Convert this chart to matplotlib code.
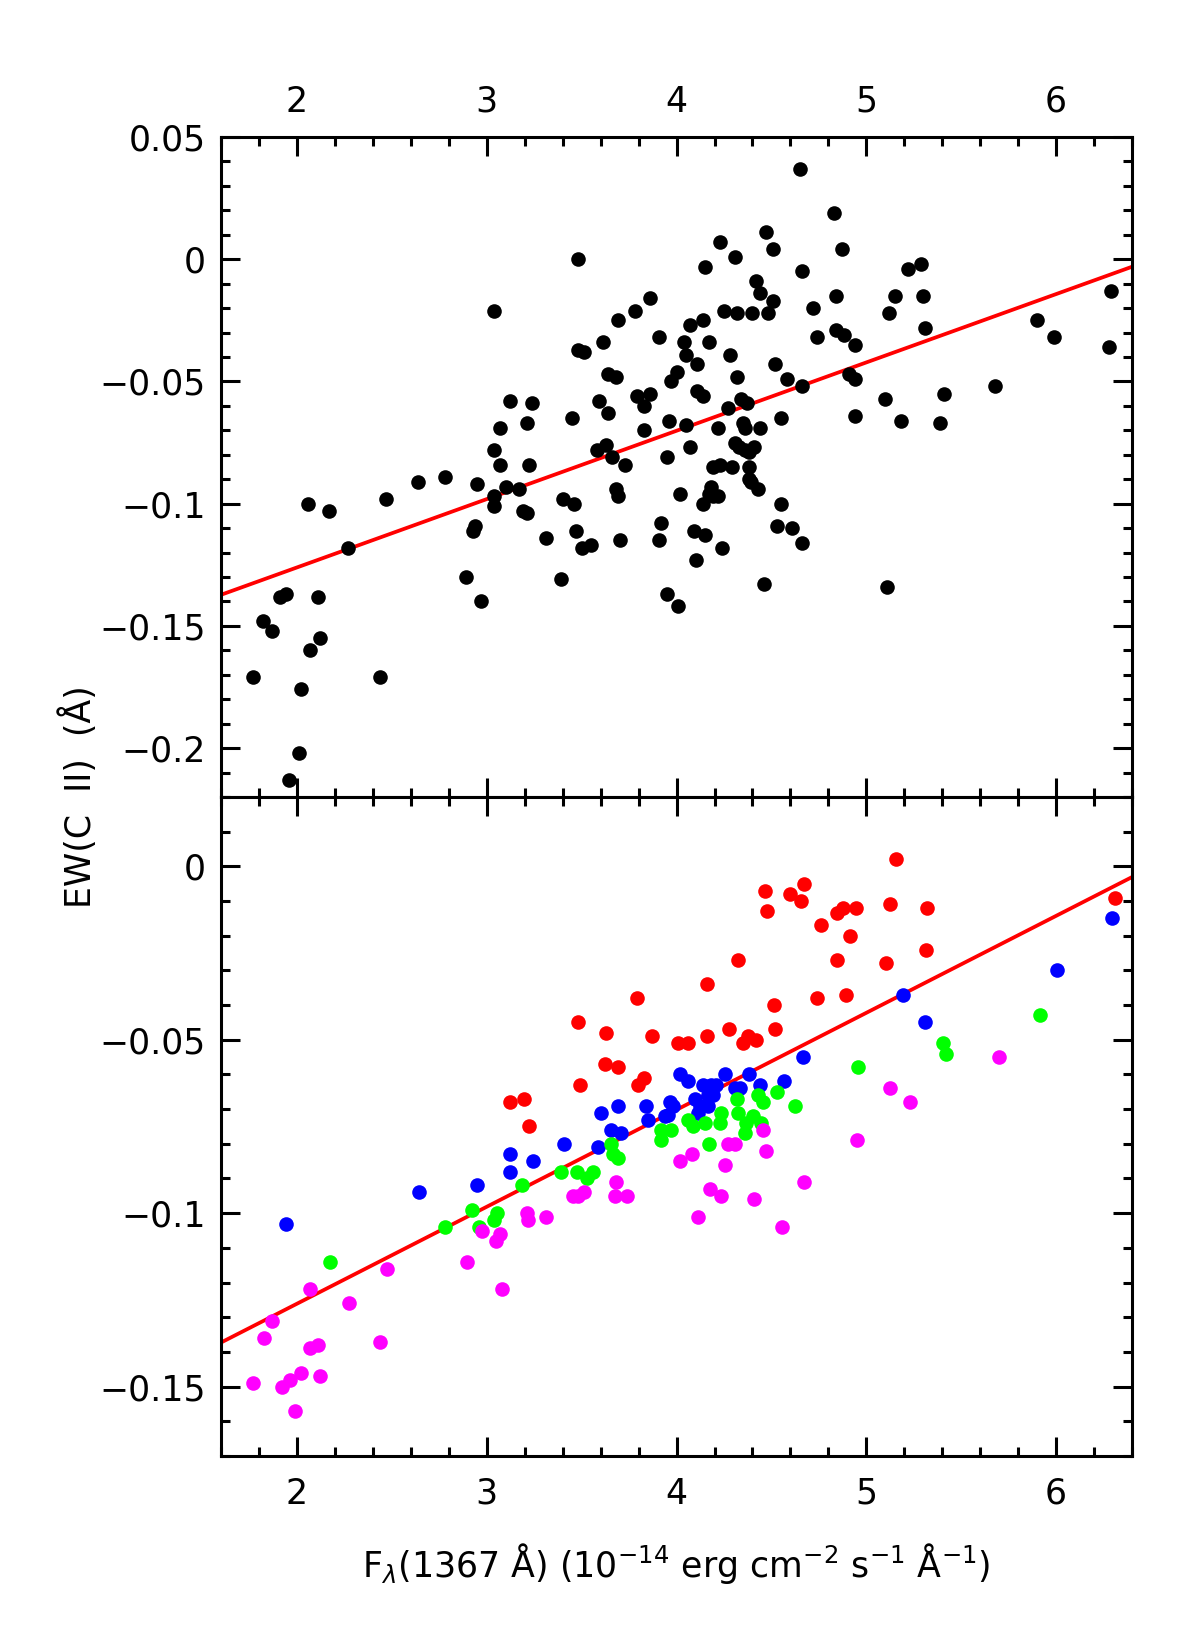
import numpy as np
import matplotlib
matplotlib.use('Agg')
import matplotlib.pyplot as plt
from matplotlib.ticker import MultipleLocator, FuncFormatter

plt.rcParams['font.family'] = ['DejaVu Sans']
plt.rcParams['mathtext.fontset'] = 'dejavusans'

# painel de cima: todos os pontos
top_x = [1.77, 1.82, 1.87, 1.91, 1.94, 1.96, 2.01, 2.02, 2.06, 2.07, 2.11, 2.12, 2.17, 2.27,
         2.44, 2.47, 2.64, 2.78, 2.89, 2.93, 2.94, 2.95, 2.97, 3.04, 3.04, 3.04, 3.04, 3.07,
         3.07, 3.10, 3.12, 3.17, 3.19, 3.21, 3.21, 3.22, 3.24, 3.31, 3.39, 3.40, 3.45, 3.46,
         3.47, 3.48, 3.48, 3.50, 3.51, 3.55, 3.59, 3.58, 3.61, 3.63, 3.64, 3.64, 3.66, 3.68,
         3.68, 3.69, 3.69, 3.70, 3.73, 3.78, 3.79, 3.83, 3.83, 3.86, 3.86, 3.91, 3.91, 3.92,
         3.95, 3.95, 3.96, 3.97, 4.00, 4.01, 4.02, 4.05, 4.04, 4.05, 4.07, 4.07, 4.09, 4.10,
         4.11, 4.11, 4.14, 4.14, 4.14, 4.15, 4.15, 4.17, 4.18, 4.17, 4.19, 4.19, 4.22, 4.22,
         4.23, 4.23, 4.24, 4.25, 4.27, 4.28, 4.29, 4.31, 4.31, 4.32, 4.32, 4.33, 4.34, 4.35,
         4.36, 4.36, 4.37, 4.38, 4.38, 4.38, 4.39, 4.40, 4.41, 4.42, 4.43, 4.44, 4.44, 4.46,
         4.47, 4.48, 4.51, 4.51, 4.52, 4.53, 4.55, 4.55, 4.58, 4.61, 4.65, 4.66, 4.66, 4.66,
         4.72, 4.74, 4.83, 4.84, 4.84, 4.87, 4.88, 4.91, 4.94, 4.94, 4.94, 5.10, 5.11, 5.12,
         5.15, 5.18, 5.22, 5.29, 5.30, 5.31, 5.39, 5.41, 5.68, 5.90, 5.99, 6.28, 6.29]
top_y = [-0.171, -0.148, -0.152, -0.138, -0.137, -0.213, -0.202, -0.176, -0.100, -0.160,
         -0.138, -0.155, -0.103, -0.118, -0.171, -0.098, -0.091, -0.089, -0.130, -0.111,
         -0.109, -0.092, -0.140, -0.021, -0.078, -0.097, -0.101, -0.069, -0.084, -0.093,
         -0.058, -0.094, -0.103, -0.067, -0.104, -0.084, -0.059, -0.114, -0.131, -0.098,
         -0.065, -0.100, -0.111, 0.000, -0.037, -0.118, -0.038, -0.117, -0.058, -0.078,
         -0.034, -0.076, -0.063, -0.047, -0.081, -0.094, -0.048, -0.025, -0.097, -0.115,
         -0.084, -0.021, -0.056, -0.060, -0.070, -0.016, -0.055, -0.032, -0.115, -0.108,
         -0.081, -0.137, -0.066, -0.050, -0.046, -0.142, -0.096, -0.068, -0.034, -0.039,
         -0.027, -0.077, -0.111, -0.123, -0.054, -0.043, -0.056, -0.025, -0.100, -0.003,
         -0.113, -0.096, -0.093, -0.034, -0.085, -0.097, -0.097, -0.069, 0.007, -0.084,
         -0.118, -0.021, -0.061, -0.039, -0.085, 0.001, -0.075, -0.048, -0.022, -0.077,
         -0.057, -0.067, -0.078, -0.069, -0.059, -0.090, -0.085, -0.079, -0.091, -0.022,
         -0.077, -0.009, -0.094, -0.069, -0.014, -0.133, 0.011, -0.022, 0.004, -0.017,
         -0.043, -0.109, -0.100, -0.065, -0.049, -0.110, 0.037, -0.005, -0.052, -0.116,
         -0.020, -0.032, 0.019, -0.015, -0.029, 0.004, -0.031, -0.047, -0.035, -0.064,
         -0.049, -0.057, -0.134, -0.022, -0.015, -0.066, -0.004, -0.002, -0.015, -0.028,
         -0.067, -0.055, -0.052, -0.025, -0.032, -0.036, -0.013]

# painel de baixo: grupos por cor
red_x = [3.123, 3.197, 3.224, 3.482, 3.491, 3.627, 3.622, 3.694, 3.791, 3.796, 3.831, 3.870,
         4.007, 4.060, 4.162, 4.162, 4.275, 4.322, 4.352, 4.377, 4.417, 4.465, 4.479, 4.514,
         4.520, 4.599, 4.655, 4.669, 4.738, 4.759, 4.844, 4.844, 4.879, 4.893, 4.916, 4.944,
         5.106, 5.124, 5.157, 5.316, 5.321, 6.311]
red_y = [-0.068, -0.067, -0.075, -0.045, -0.063, -0.048, -0.057, -0.058, -0.038, -0.063,
         -0.061, -0.049, -0.051, -0.051, -0.034, -0.049, -0.047, -0.027, -0.051, -0.049,
         -0.050, -0.007, -0.013, -0.040, -0.047, -0.008, -0.010, -0.005, -0.038, -0.017,
         -0.0135, -0.027, -0.012, -0.037, -0.020, -0.012, -0.028, -0.011, 0.002, -0.024,
         -0.012, -0.009]

blue_x = [1.943, 2.643, 2.951, 3.120, 3.123, 3.245, 3.405, 3.588, 3.602, 3.655, 3.694, 3.708,
          3.840, 3.849, 3.937, 3.955, 3.963, 3.981, 4.016, 4.060, 4.095, 4.113, 4.122, 4.139,
          4.166, 4.166, 4.183, 4.192, 4.209, 4.253, 4.306, 4.333, 4.382, 4.439, 4.567, 4.668,
          5.191, 5.310, 6.006, 6.296]
blue_y = [-0.103, -0.094, -0.092, -0.083, -0.088, -0.085, -0.080, -0.081, -0.071, -0.076,
          -0.069, -0.077, -0.069, -0.073, -0.072, -0.0716, -0.068, -0.069, -0.060, -0.062,
          -0.067, -0.071, -0.069, -0.063, -0.066, -0.069, -0.063, -0.066, -0.063, -0.060,
          -0.064, -0.064, -0.060, -0.063, -0.062, -0.055, -0.037, -0.045, -0.030, -0.015]

green_x = [2.176, 2.778, 2.924, 2.959, 3.039, 3.053, 3.188, 3.391, 3.476, 3.528, 3.558, 3.652,
           3.664, 3.690, 3.919, 3.919, 3.972, 4.060, 4.087, 4.148, 4.169, 4.227, 4.236, 4.321,
           4.324, 4.359, 4.368, 4.403, 4.430, 4.447, 4.456, 4.527, 4.623, 4.956, 5.402, 5.420,
           5.914]
green_y = [-0.114, -0.104, -0.099, -0.104, -0.102, -0.100, -0.092, -0.088, -0.088, -0.090,
           -0.088, -0.080, -0.083, -0.084, -0.076, -0.079, -0.076, -0.073, -0.075, -0.074,
           -0.080, -0.074, -0.071, -0.067, -0.071, -0.077, -0.074, -0.072, -0.066, -0.074,
           -0.068, -0.065, -0.069, -0.058, -0.051, -0.054, -0.043]

mag_x = [1.771, 1.824, 1.868, 1.921, 1.965, 1.988, 2.023, 2.067, 2.070, 2.109, 2.123, 2.273,
         2.440, 2.472, 2.894, 2.977, 3.048, 3.070, 3.079, 3.211, 3.215, 3.312, 3.453, 3.479,
         3.511, 3.673, 3.682, 3.738, 4.016, 4.081, 4.113, 4.174, 4.236, 4.254, 4.271, 4.306,
         4.409, 4.456, 4.469, 4.557, 4.673, 4.949, 5.122, 5.231, 5.698]
mag_y = [-0.149, -0.136, -0.131, -0.150, -0.148, -0.157, -0.146, -0.122, -0.139, -0.138,
         -0.147, -0.126, -0.137, -0.116, -0.114, -0.105, -0.108, -0.106, -0.122, -0.100,
         -0.102, -0.101, -0.095, -0.095, -0.094, -0.095, -0.091, -0.095, -0.085, -0.083,
         -0.101, -0.093, -0.095, -0.086, -0.080, -0.080, -0.096, -0.076, -0.082, -0.104,
         -0.091, -0.079, -0.064, -0.068, -0.055]

# reta do ajuste (a mesma nos dois paineis)
fit_slope = 0.02796
fit_intercept = -0.18203

xlim = (1.6, 6.4)
top_ylim = (-0.22, 0.05)
bot_ylim = (-0.17, 0.02)

fs = 25
ms = 10.5


def fmt(v, pos):
    s = '%g' % round(v, 3)
    return s.replace('-', '\u2212')


def style(ax, ylim):
    ax.set_xlim(xlim)
    ax.set_ylim(ylim)
    ax.xaxis.set_major_locator(MultipleLocator(1))
    ax.xaxis.set_minor_locator(MultipleLocator(0.2))
    ax.yaxis.set_major_locator(MultipleLocator(0.05))
    ax.yaxis.set_minor_locator(MultipleLocator(0.01))
    ax.yaxis.set_major_formatter(FuncFormatter(fmt))
    ax.tick_params(which='both', direction='in', top=True, right=True, width=2.2,
                   labelsize=fs, color='black')
    ax.tick_params(which='major', length=13.5)
    ax.tick_params(which='minor', length=6.5)
    ax.tick_params(axis='y', pad=11)
    for sp in ax.spines.values():
        sp.set_linewidth(2.2)


fig = plt.figure(figsize=(11.98, 16.5), dpi=100)

#painel de cima
ax1 = fig.add_axes([0.1845, 0.5170, 0.7605, 0.4000])
style(ax1, top_ylim)
ax1.plot(top_x, top_y, 'o', color='black', ms=ms, mec='none', zorder=3)
xx = np.array(xlim)
ax1.plot(xx, fit_slope * xx + fit_intercept, color='#ff0000', lw=2.7, zorder=2)
ax1.tick_params(axis='x', labelbottom=False, labeltop=True, pad=13)

#painel de baixo
ax2 = fig.add_axes([0.1845, 0.1176, 0.7605, 0.3994])
style(ax2, bot_ylim)
ax2.plot(red_x, red_y, 'o', color='#ff0000', ms=ms, mec='none', zorder=3)
ax2.plot(blue_x, blue_y, 'o', color='#0000ff', ms=ms, mec='none', zorder=3)
ax2.plot(green_x, green_y, 'o', color='#00ff00', ms=ms, mec='none', zorder=3)
ax2.plot(mag_x, mag_y, 'o', color='#ff00ff', ms=ms, mec='none', zorder=3)
ax2.plot(xx, fit_slope * xx + fit_intercept, color='#ff0000', lw=2.7, zorder=2)
ax2.tick_params(axis='x', labelbottom=True, labeltop=False, pad=15)
ax2.set_xlabel(r'F$_\lambda$(1367 Å) (10$^{-14}$ erg cm$^{-2}$ s$^{-1}$ Å$^{-1}$)',
               fontsize=fs, labelpad=22)

fig.text(0.066, 1 - 797 / 1650, 'EW(C  II)  (Å)', rotation=90, fontsize=fs,
         ha='center', va='center')

fig.savefig('out.png', dpi=100)
